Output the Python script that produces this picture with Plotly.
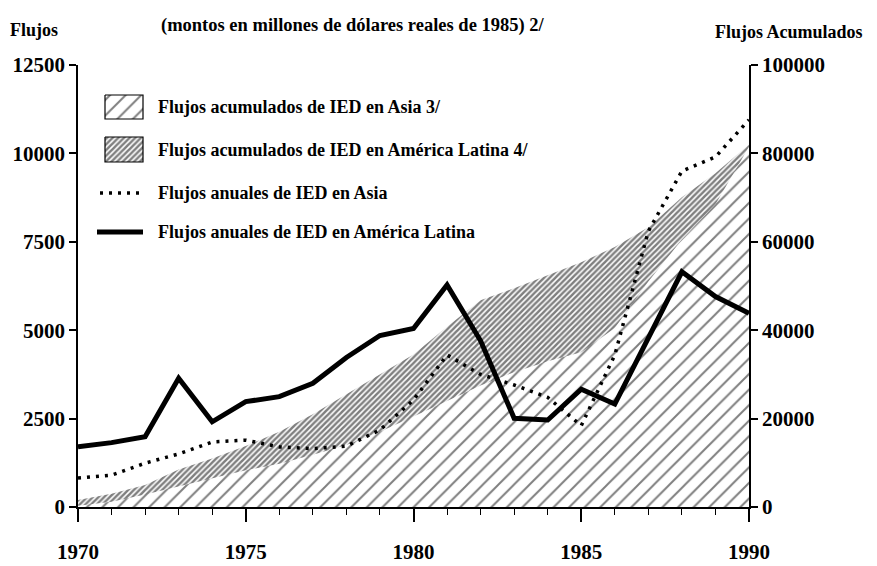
import plotly.graph_objects as go

# datos (millones de dolares de 1985)
anios = list(range(1970, 1991))
flujo_al = [1700, 1820, 1990, 3640, 2410, 2980, 3120, 3500, 4230, 4850, 5050,
            6280, 4700, 2510, 2460, 3330, 2910, 4800, 6650, 5950, 5480]
flujo_asia = [820, 900, 1240, 1500, 1840, 1890, 1700, 1650, 1720, 2180, 3030,
              4300, 3750, 3450, 3100, 2300, 4300, 7800, 9500, 9900, 10950]
acum_al = [1600, 3000, 5000, 8500, 11000, 13800, 17000, 21000, 25500, 30000, 34500,
           40800, 46800, 49500, 52500, 55400, 58800, 63300, 70100, 75500, 82000]
acum_asia = [300, 1200, 2800, 4600, 6500, 8300, 9800, 11800, 14000, 17000, 20500,
             24000, 27500, 30500, 33000, 35000, 40500, 51000, 60500, 68500, 81500]

etiquetas = ["Flujos acumulados de IED en Asia 3/",
             "Flujos acumulados de IED en América Latina 4/",
             "Flujos anuales de IED en Asia",
             "Flujos anuales de IED en América Latina"]

FUENTE = "Liberation Serif"
# la pagina tiene 8px de margen en el body, se descuenta
OFF = 8
W, H = 877 - OFF, 566 - OFF
L, R, T, B = 70, 128, 57, 59
PW, PH = W - L - R, H - T - B

patron_asia = dict(shape="/", size=11, solidity=0.18, fgcolor="black", bgcolor="white")
patron_al = dict(shape="/", size=4, solidity=0.62, fgcolor="black", bgcolor="white")

fig = go.Figure()
# areas acumuladas en el eje base (derecho), lineas anuales en el eje superpuesto (izquierdo)
fig.add_trace(go.Scatter(x=anios, y=acum_al, yaxis="y", fill="tozeroy", mode="lines",
                         line=dict(width=0, color="black"), fillpattern=patron_al,
                         fillcolor="white", showlegend=False))
fig.add_trace(go.Scatter(x=anios, y=acum_asia, yaxis="y", fill="tozeroy", mode="lines",
                         line=dict(width=0, color="black"), fillpattern=patron_asia,
                         fillcolor="white", showlegend=False))
fig.add_trace(go.Scatter(x=anios, y=flujo_asia, yaxis="y2", mode="lines",
                         line=dict(color="black", width=3.5, dash="3px,6px"),
                         showlegend=False))
fig.add_trace(go.Scatter(x=anios, y=flujo_al, yaxis="y2", mode="lines",
                         line=dict(color="black", width=5),
                         showlegend=False))

# leyenda dibujada a mano (coordenadas en pixeles del area de trazado)
def caja(x0, y0, x1, y1, patron):
    fig.add_trace(go.Scatter(x=[x0, x1, x1, x0, x0], y=[y0, y0, y1, y1, y0],
                             xaxis="x3", yaxis="y3", fill="toself", mode="lines",
                             line=dict(color="black", width=1.2), fillpattern=patron,
                             fillcolor="white", showlegend=False, hoverinfo="skip"))

caja(27, 30, 65, 54, patron_asia)
caja(27, 72, 65, 97, patron_al)
fig.add_trace(go.Scatter(x=[22, 65], y=[128, 128], xaxis="x3", yaxis="y3", mode="lines",
                         line=dict(color="black", width=3.5, dash="3px,6px"),
                         showlegend=False, hoverinfo="skip"))
fig.add_trace(go.Scatter(x=[19, 65], y=[167, 167], xaxis="x3", yaxis="y3", mode="lines",
                         line=dict(color="black", width=5),
                         showlegend=False, hoverinfo="skip"))

filas = [42, 85, 128, 167]
anots = []
for txt, fy in zip(etiquetas, filas):
    anots.append(dict(text=txt, x=78, y=fy, xref="x3", yref="y3", xanchor="left",
                      yanchor="middle", showarrow=False, font=dict(size=18)))

# posiciones en pixeles de la ventana -> coordenadas paper
def px(xp):
    return (xp - OFF - L) / PW

def py(yp):
    return (H - B - (yp - OFF)) / PH

anots += [
    dict(text="Flujos", x=px(8), y=py(30), xref="paper", yref="paper", xanchor="left",
         yanchor="middle", showarrow=False, font=dict(size=18)),
    dict(text="(montos en millones de dólares reales de 1985) 2/", x=px(353), y=py(25),
         xref="paper", yref="paper", xanchor="center", yanchor="middle", showarrow=False,
         font=dict(size=18.5)),
    dict(text="Flujos Acumulados", x=px(865), y=py(32), xref="paper", yref="paper",
         xanchor="right", yanchor="middle", showarrow=False, font=dict(size=18)),
]

eje = dict(showgrid=False, zeroline=False, showline=True, linecolor="black", linewidth=1.5,
           ticks="outside", tickcolor="black", tickwidth=1.5, automargin=False,
           tickformat="d", tickfont=dict(size=21, color="black"))

fig.update_layout(
    width=W, height=H,
    margin=dict(l=L, r=R, t=T, b=B),
    paper_bgcolor="white", plot_bgcolor="white",
    font=dict(family=FUENTE, color="black", weight="bold"),
    xaxis=dict(eje, range=[1970, 1990], tick0=1970, dtick=5, ticklen=13,
               ticklabelstandoff=12,
               minor=dict(dtick=1, ticks="outside", ticklen=6, tickcolor="black", tickwidth=1.2)),
    yaxis=dict(eje, range=[0, 100000], dtick=20000, ticklen=7, side="right"),
    yaxis2=dict(eje, range=[0, 12500], dtick=2500, ticklen=7, overlaying="y", side="left"),
    xaxis3=dict(range=[0, PW], overlaying="x", visible=False, fixedrange=True),
    yaxis3=dict(range=[PH, 0], overlaying="y", visible=False, fixedrange=True),
    annotations=anots,
    showlegend=False,
)

fig.write_html("out.html")
